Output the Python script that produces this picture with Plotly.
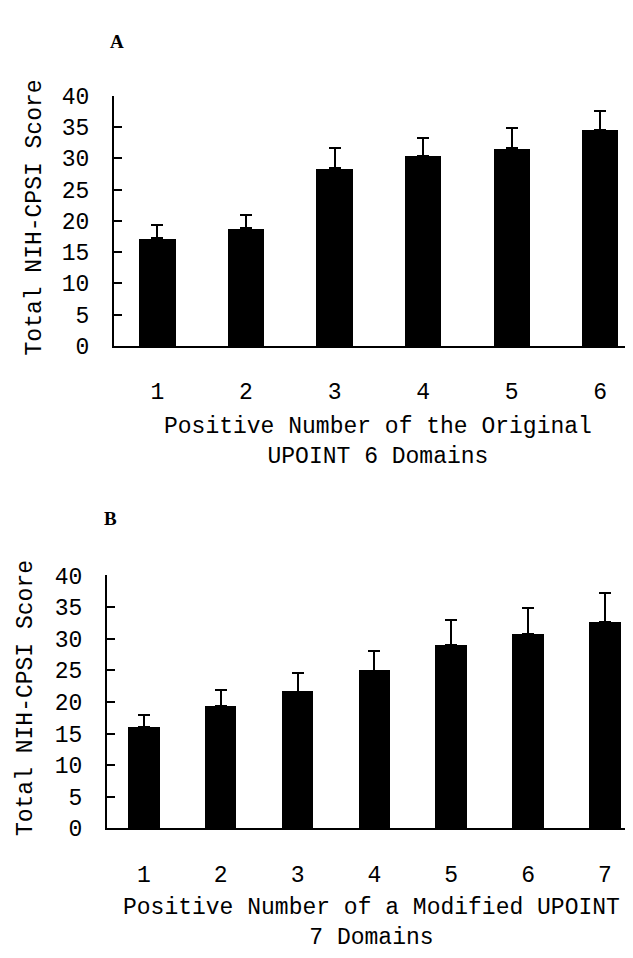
"""
Total NIH-CPSI score by number of positive UPOINT domains (panels A and B).
"""

import plotly.graph_objects as go

# ──────────────────────────────────────────────────────────────
# Data
# ──────────────────────────────────────────────────────────────
domains_a = ["1", "2", "3", "4", "5", "6"]
score_a   = [17.2, 18.8, 28.4, 30.4, 31.6, 34.6]
sd_a      = [2.2, 2.2, 3.2, 2.9, 3.3, 3.0]

domains_b = ["1", "2", "3", "4", "5", "6", "7"]
score_b   = [16.0, 19.3, 21.6, 24.9, 29.0, 30.7, 32.6]
sd_b      = [2.0, 2.6, 2.9, 3.2, 3.9, 4.2, 4.6]

y_ticks = [0, 5, 10, 15, 20, 25, 30, 35, 40]

W, H = 633, 958
FONT = "Liberation Mono, DejaVu Sans Mono, monospace"


def px_x(p):
    return p / W


def px_y(p):
    return 1 - p / H


def bar_trace(cats, vals, errs, xa, ya):
    return go.Bar(
        x=[int(c) for c in cats], y=vals,
        xaxis=xa, yaxis=ya,
        width=0.41,
        marker=dict(color="black", line=dict(color="black", width=0)),
        error_y=dict(
            type="data", symmetric=False,
            array=errs, arrayminus=[0] * len(errs),
            color="black", thickness=2, width=6,
        ),
        showlegend=False,
    )


fig = go.Figure()
fig.add_trace(bar_trace(domains_a, score_a, sd_a, "x", "y"))
fig.add_trace(bar_trace(domains_b, score_b, sd_b, "x2", "y2"))

x_common = dict(
    showline=True, linecolor="black", linewidth=2,
    showgrid=False, zeroline=False, ticks="",
    tickfont=dict(family=FONT, size=23, color="black"),
    ticklabelstandoff=24,
)
y_common = dict(
    range=[0, 40], tickvals=y_ticks,
    showline=True, linecolor="black", linewidth=2,
    showgrid=False, zeroline=False,
    ticks="inside", ticklen=8, tickwidth=2, tickcolor="black",
    tickfont=dict(family=FONT, size=23, color="black"),
    ticklabelstandoff=18,
)

fig.update_layout(
    width=W, height=H,
    margin=dict(l=0, r=0, t=0, b=0),
    plot_bgcolor="white", paper_bgcolor="white",
    bargap=0,
    xaxis=dict(**x_common, domain=[px_x(106), 1], range=[0.51, 6.46],
               tickvals=[int(c) for c in domains_a], ticktext=domains_a,
               anchor="y"),
    yaxis=dict(**y_common, domain=[px_y(336), px_y(79)], anchor="x"),
    xaxis2=dict(**x_common, domain=[px_x(99), 1], range=[0.52, 7.47],
                tickvals=[int(c) for c in domains_b], ticktext=domains_b,
                anchor="y2"),
    yaxis2=dict(**y_common, domain=[px_y(832), px_y(572)], anchor="x2"),
)

# titles and panel letters
notes = [
    ("A", 109, 23, 19, "Liberation Serif", 0, True),
    ("B", 102, 513, 19, "Liberation Serif", 0, True),
    ("Total NIH-CPSI Score", 27, 204, 23, FONT, -90, False),
    ("Total NIH-CPSI Score", 18, 698, 23, FONT, -90, False),
    ("Positive Number of the Original<br>UPOINT 6 Domains", 370, 435, 23, FONT, 0, False),
    ("Positive Number of a Modified UPOINT<br>7 Domains", 363, 929, 23, FONT, 0, False),
]
for text, x, y, size, family, angle, bold in notes:
    fig.add_annotation(
        text=f"<b>{text}</b>" if bold else text,
        xref="paper", yref="paper", x=px_x(x), y=px_y(y),
        xanchor="center", yanchor="middle",
        showarrow=False, textangle=angle,
        font=dict(family=family, size=size, color="black"),
    )

fig.write_html("out.html")
